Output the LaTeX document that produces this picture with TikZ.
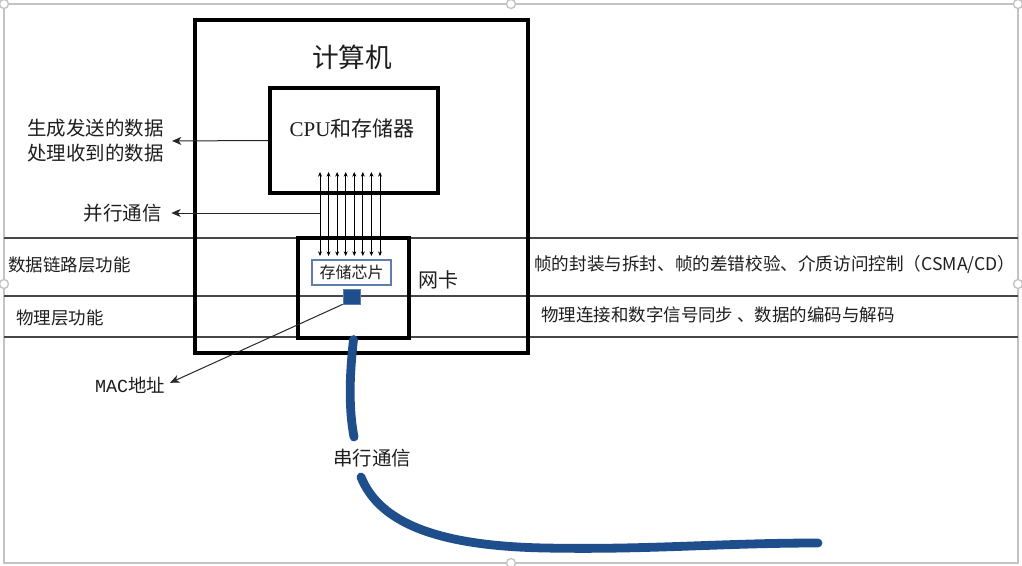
\documentclass[tikz,border=0pt]{standalone}
\usepackage{fontspec}
\setmainfont{Liberation Serif}
\newfontfamily\cjk{Noto Sans CJK SC}
\newfontfamily\monof{Liberation Mono}
\usetikzlibrary{fit,arrows.meta}
\definecolor{cable}{RGB}{31,78,140}
\definecolor{chipline}{RGB}{95,125,175}
\definecolor{txt}{RGB}{30,30,30}
\definecolor{framegray}{RGB}{195,195,195}
\tikzset{
  thickbox/.style={draw=black, line width=2.3pt, inner sep=0pt},
  layerline/.style={draw=black!72, line width=1pt},
  lbl/.style={inner sep=0pt, text=txt},
  fzA/.style={font=\cjk\fontsize{13.1pt}{16pt}\selectfont},
  fzR/.style={font=\cjk\fontsize{13.2pt}{16pt}\selectfont},
  fzB/.style={font=\cjk\fontsize{14.6pt}{18.75pt}\selectfont},
  pararrow/.style={draw=black, line width=0.7pt, {Stealth[length=3.5pt,width=3pt]}-{Stealth[length=3.5pt,width=3pt]}},
  lblarrow/.style={draw=black!85, line width=0.75pt, -{Stealth[length=7pt,width=6pt,inset=2pt]}},
  cablestyle/.style={draw=cable, line width=6.6pt, line cap=round},
  handle/.style={draw=framegray, fill=white, line width=1pt}
}
\begin{document}
\begin{tikzpicture}[x=0.75pt,y=-0.75pt]
\useasboundingbox (0,0) rectangle (1022,565);
\fill[white] (0,0) rectangle (1022,565);
% editor frame
\draw[framegray, line width=1.2pt] (4,4) rectangle (1018,563);

% layer lines
\draw[layerline] (4,238) -- (1018,238);
\draw[layerline] (4,296) -- (1018,296);
\draw[layerline] (4,337) -- (1018,337);

% computer box
\coordinate (c1) at (195,20); \coordinate (c2) at (528,353);
\node[thickbox, fit=(c1)(c2)] (comp) {};
\node[lbl, font=\cjk\fontsize{20pt}{24pt}\selectfont] (title) at (352,57) {计算机};

% CPU box
\coordinate (p1) at (270,88); \coordinate (p2) at (438,193);
\node[thickbox, fit=(p1)(p2)] (cpu) {};
\node[lbl] (cputxt) at (352,128) {\fontsize{15.75pt}{18pt}\selectfont CPU{\cjk 和存储器}};

% NIC box
\coordinate (n1) at (298,238); \coordinate (n2) at (409,338);
\node[thickbox, fit=(n1)(n2)] (nic) {};
\node[lbl, font=\cjk\fontsize{15pt}{18pt}\selectfont] (niclab) at (438,280) {网卡};

% chip
\coordinate (k1) at (312,260); \coordinate (k2) at (391,285);
\node[draw=chipline, line width=0.8pt, fill=white, inner sep=0pt, fit=(k1)(k2)] (chip) {};
\node[lbl, font=\cjk\fontsize{12pt}{14pt}\selectfont] (chiptxt) at (chip.center) {存储芯片};

% MAC square
\coordinate (m1) at (343,289); \coordinate (m2) at (360,304);
\node[fill=cable, draw=chipline, line width=0.6pt, inner sep=0pt, fit=(m1)(m2)] (mac) {};

% parallel arrows
\foreach \i in {0,...,7} {
  \draw[pararrow] ({320+\i*8.57},172) -- ({320+\i*8.57},256);
}

% left labels
\node[lbl, fzB, align=right, anchor=east] (datalab) at (164,141) {生成发送的数据\\处理收到的数据};
\node[lbl, fzB, anchor=east] (parlab) at (162,213) {并行通信};
\node[lbl, fzA, anchor=west] (dllab) at (8,265) {数据链路层功能};
\node[lbl, fzA, anchor=west] (phylab) at (16,318) {物理层功能};
\node[lbl, anchor=center] (maclab) at (130,385) {\fontsize{13.8pt}{16pt}\selectfont{\monof MAC}{\cjk 地址}};

% right labels
\node[lbl, fzR, anchor=west] (dlfun) at (534,265) {帧的封装与拆封、帧的差错校验、介质访问控制（CSMA/CD）};
\node[lbl, fzA, anchor=west] (phyfun) at (541,315) {物理连接和数字信号同步 、数据的编码与解码};

% arrows to labels
\draw[lblarrow, shorten >=6pt] (cpu.west) -- (datalab.east);
\coordinate (parsrc) at (320,213);
\draw[lblarrow, shorten >=7pt] (parsrc) -- (parlab.east);
\draw[lblarrow, shorten >=4pt] (mac.south west) -- (maclab.east);

% serial cable
\node[lbl, fzB] (serial) at (372,458) {串行通信};
\coordinate (cabA) at (354,437);
\coordinate (cabB) at (361,477);
\coordinate (cabEnd) at (818,543);
\draw[cablestyle] (nic.south) .. controls (349,380) and (349,410) .. (cabA);
\draw[cablestyle] (cabB) .. controls (380,524) and (440,546) .. (545,548) .. controls (650,550) and (720,543) .. (cabEnd);

% editor handles
\foreach \p in {(4,4),(511,4),(1018,4),(4,284),(1018,284),(511,563)} {
  \draw[handle] \p circle (4.5);
}
\end{tikzpicture}
\end{document}
